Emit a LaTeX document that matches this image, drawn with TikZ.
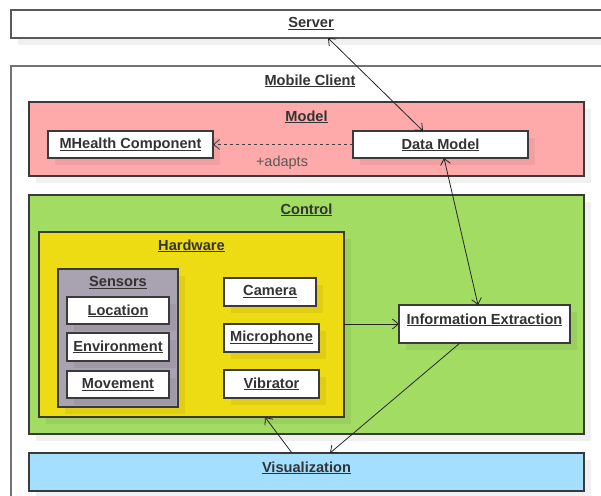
\documentclass[tikz,border=0pt]{standalone}
\usepackage{fontspec}
\setmainfont{Liberation Sans}
\usetikzlibrary{arrows.meta,shadows}

\definecolor{modelfill}{HTML}{FFAAAA}
\definecolor{controlfill}{HTML}{A2DC63}
\definecolor{hwfill}{HTML}{EDDB14}
\definecolor{sensorfill}{HTML}{A9A2B0}
\definecolor{visfill}{HTML}{A4DFFF}
\definecolor{edge}{HTML}{3A3A3A}
\definecolor{ink}{HTML}{333333}

% underlined element name
\newcommand\ulbl[1]{\setbox0\hbox{#1}\rlap{\rule[-2.4pt]{\wd0}{1.1pt}}\box0}

\tikzset{
  umlbox/.style={draw=edge, line width=1.2pt, anchor=north west,
    inner sep=0pt, outer sep=0pt,
    drop shadow={shadow xshift=7pt, shadow yshift=-7pt, fill=black, opacity=0.06}},
  leaf/.style={umlbox, fill=white},
  title/.style={font=\fontsize{14.6}{17}\selectfont\bfseries, text=ink, inner sep=0pt},
  link/.style={line width=0.8pt, draw=black!85},
  barb/.tip={Straight Barb[length=6pt,width=10pt,line width=0.8pt]},
}

\begin{document}
\begin{tikzpicture}[x=1pt,y=-1pt]
\useasboundingbox (0,0) rectangle (601,495);

% deployment frames
\node[umlbox, draw=black!65, fill=white, minimum width=640, minimum height=28] (server) at (11,10) {};
\node[title] (serverlbl) at (311,24) {\ulbl{Server}};
\node[umlbox, draw=black!55, fill=white, minimum width=640, minimum height=480] (client) at (11,66) {};
\node[title] (clientlbl) at (310,81) {\ulbl{Mobile Client}};

% model package
\node[umlbox, fill=modelfill, minimum width=555, minimum height=74] (model) at (29,102) {};
\node[title] (modellbl) at (model.north) [yshift=-15pt] {\ulbl{Model}};
\node[leaf, minimum width=165, minimum height=27] (mhealth) at (48,131) {};
\node[title] at (mhealth.north) [yshift=-14pt] {\ulbl{MHealth Component}};
\node[leaf, minimum width=175, minimum height=27] (datamodel) at (353,131) {};
\node[title] at (datamodel.north) [yshift=-14pt] {\ulbl{Data Model}};

% control package
\node[umlbox, fill=controlfill, minimum width=555, minimum height=239] (control) at (29,195) {};
\node[title] (controllbl) at (control.north) [yshift=-15pt] {\ulbl{Control}};

\node[umlbox, fill=hwfill, minimum width=305, minimum height=185] (hardware) at (39,232) {};
\node[title] (hardwarelbl) at (hardware.north) [yshift=-14pt] {\ulbl{Hardware}};

\node[umlbox, fill=sensorfill, minimum width=120, minimum height=138] (sensors) at (58,269) {};
\node[title] (sensorslbl) at (sensors.north) [yshift=-14pt] {\ulbl{Sensors}};
\node[leaf, minimum width=102, minimum height=27] (location) at (67,297) {};
\node[title] at (location.north) [yshift=-14pt] {\ulbl{Location}};
\node[leaf, minimum width=102, minimum height=28] (environment) at (67,333) {};
\node[title] at (environment.north) [yshift=-14pt] {\ulbl{Environment}};
\node[leaf, minimum width=102, minimum height=27] (movement) at (67,371) {};
\node[title] at (movement.north) [yshift=-14pt] {\ulbl{Movement}};

\node[leaf, minimum width=92, minimum height=28] (camera) at (224,278) {};
\node[title] at (camera.north) [yshift=-14pt] {\ulbl{Camera}};
\node[leaf, minimum width=95, minimum height=28] (microphone) at (224,324) {};
\node[title] at (microphone.north) [yshift=-14pt] {\ulbl{Microphone}};
\node[leaf, minimum width=95, minimum height=28] (vibrator) at (224,370) {};
\node[title] at (vibrator.north) [yshift=-14pt] {\ulbl{Vibrator}};

\node[leaf, minimum width=171, minimum height=38] (infoext) at (399,305) {};
\node[title] at (infoext.north) [yshift=-15pt] {\ulbl{Information Extraction}};

% view
\node[umlbox, fill=visfill, minimum width=555, minimum height=38] (vis) at (29,453) {};
\node[title] (vislbl) at (vis.north) [yshift=-15pt] {\ulbl{Visualization}};

% relations
\draw[link, draw=black!75, line width=1.4pt, dash pattern=on 3pt off 3pt, -{barb}]
  (datamodel.west) -- (mhealth.east);
\node[font=\fontsize{14.5}{16}\selectfont, text=black!65, inner sep=0pt] (adapts) at (282,163) {+adapts};

\draw[link, {barb}-{barb}] ([xshift=317pt]server.south west) -- ([xshift=70pt]datamodel.north west);
\draw[link, {barb}-{barb}] ([xshift=91pt]datamodel.south west) -- ([xshift=79pt]infoext.north west);
\draw[link, -{barb}] (hardware.east |- infoext.west) -- (infoext.west);
\draw[link, -{barb}] ([xshift=61pt]infoext.south west) -- ([xshift=301pt]vis.north west);
\draw[link, -{barb}] ([xshift=263pt]vis.north west) -- ([xshift=226pt]hardware.south west);
\end{tikzpicture}
\end{document}
